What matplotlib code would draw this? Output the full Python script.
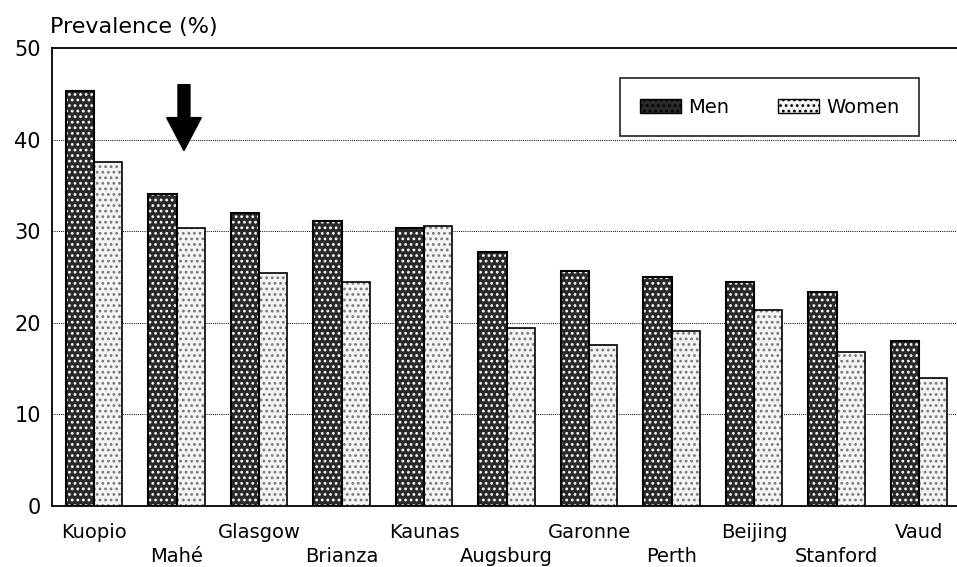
import numpy as np
import matplotlib
matplotlib.use('Agg')
import matplotlib.pyplot as plt
from matplotlib.patches import Patch

sites = ['Kuopio', 'Mahé', 'Glasgow', 'Brianza', 'Kaunas', 'Augsburg',
         'Garonne', 'Perth', 'Beijing', 'Stanford', 'Vaud']
men = [45.3, 34.1, 32.0, 31.1, 30.4, 27.7, 25.7, 25.0, 24.5, 23.4, 18.0]
women = [37.6, 30.4, 25.4, 24.5, 30.6, 19.4, 17.6, 19.1, 21.4, 16.8, 14.0]
yticks = [0, 10, 20, 30, 40, 50]

plt.rcParams['font.family'] = 'DejaVu Sans'
plt.rcParams['hatch.linewidth'] = 1.2

fig = plt.figure(figsize=(9.57, 5.67), dpi=100)
ax = fig.add_axes([0.0543, 0.1076, 0.9457, 0.8077])

x = np.arange(len(sites))
w = 0.34
men_style = dict(facecolor='#2a2a2a', edgecolor='white', hatch='...', linewidth=0)
women_style = dict(facecolor='#f4f4f4', edgecolor='#777777', hatch='...', linewidth=0)

ax.bar(x - w / 2, men, w, zorder=3, **men_style)
ax.bar(x + w / 2, women, w, zorder=3, **women_style)
# outlines on top
ax.bar(x - w / 2, men, w, fill=False, edgecolor='black', linewidth=1.5, zorder=4)
ax.bar(x + w / 2, women, w, fill=False, edgecolor='black', linewidth=1.2, zorder=4)

ax.set_xlim(-0.51, 10.46)
ax.set_ylim(0, 50)
ax.set_yticks(yticks)
ax.set_yticklabels([str(t) for t in yticks], fontsize=15)
ax.set_xticks(x)
ax.set_xticklabels([s if i % 2 == 0 else '\n' + s for i, s in enumerate(sites)],
                   fontsize=14, linespacing=1.35)
ax.tick_params(length=0, pad=8)
ax.tick_params(axis='x', pad=12)

for v in yticks[1:-1]:
    ax.axhline(v, color='black', linestyle=(0, (1, 1.2)), linewidth=0.7, zorder=1)

ax.spines['right'].set_visible(False)
for s in ['left', 'top', 'bottom']:
    ax.spines[s].set_linewidth(1.3)

fig.text(0.052, 1 - 33 / 567, 'Prevalence (%)', fontsize=16, ha='left', va='baseline')

# arrow pointing at Mahé
ax.arrow(1.09, 46.0, 0, -7.2, width=0.145, head_width=0.42, head_length=3.6,
         length_includes_head=True, color='black', zorder=5)

handles = [Patch(facecolor='#2a2a2a', edgecolor='black', hatch='...', label='Men'),
           Patch(facecolor='#f4f4f4', edgecolor='black', hatch='...', label='Women')]
leg = ax.legend(handles=handles, loc='upper left', bbox_to_anchor=(0.628, 0.934),
                ncol=2, fontsize=14, frameon=True, fancybox=False, edgecolor='black',
                borderpad=1.0, columnspacing=2.5, handlelength=2.1, handleheight=0.8,
                handletextpad=0.4, borderaxespad=0)
leg.get_frame().set_linewidth(1.3)

fig.savefig('out.png', dpi=100)
